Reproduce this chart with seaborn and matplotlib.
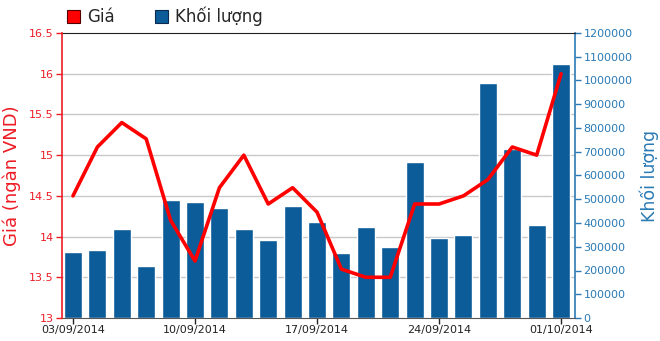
import numpy as np
import pandas as pd
import matplotlib
matplotlib.use("Agg")
import matplotlib.pyplot as plt
from matplotlib.patches import Patch
from matplotlib.ticker import FixedLocator, FuncFormatter
import seaborn as sns

dates = ["03/09/2014", "04/09/2014", "05/09/2014", "08/09/2014", "09/09/2014",
         "10/09/2014", "11/09/2014", "12/09/2014", "15/09/2014", "16/09/2014",
         "17/09/2014", "18/09/2014", "19/09/2014", "22/09/2014", "23/09/2014",
         "24/09/2014", "25/09/2014", "26/09/2014", "29/09/2014", "30/09/2014",
         "01/10/2014"]
price = [14.5, 15.1, 15.4, 15.2, 14.2, 13.7, 14.6, 15.0, 14.4, 14.6, 14.3,
         13.6, 13.5, 13.5, 14.4, 14.4, 14.5, 14.7, 15.1, 15.0, 16.0]
volume = [279000, 288000, 375000, 218000, 495000, 490000, 462000, 375000,
          327000, 470000, 403000, 274000, 384000, 298000, 658000, 337000,
          351000, 989000, 712000, 390000, 1071000]
xtick_labels = ["03/09/2014", "10/09/2014", "17/09/2014", "24/09/2014", "01/10/2014"]
price_ticks = [13, 13.5, 14, 14.5, 15, 15.5, 16, 16.5]
volume_ticks = list(range(0, 1200001, 100000))

df = pd.DataFrame({"idx": np.arange(len(dates)), "date": dates,
                   "price": price, "volume": volume})

sns.set_style("white")
plt.rcParams["font.family"] = ["DejaVu Sans"]

RED = "#ee1c25"
BLUE = "#2a7ab5"
BAR = "#0b5c98"

W, H = 660, 341
fig = plt.figure(figsize=(W / 100, H / 100), dpi=100)
L, R, T, B = 62, 575, 33, 318
rect = [L / W, (H - B) / H, (R - L) / W, (B - T) / H]

ax_v = fig.add_axes(rect)
ax_p = ax_v.twinx()

# volume bars (back)
sns.barplot(data=df, x="idx", y="volume", color=BAR, width=0.74,
            saturation=1, ax=ax_v, zorder=2)
ax_v.set_ylim(0, 1200000)
ax_v.yaxis.tick_right()
ax_v.yaxis.set_label_position("right")
ax_v.set_yticks(volume_ticks)
ax_v.yaxis.set_major_formatter(FuncFormatter(lambda v, p: f"{int(v)}"))
ax_v.yaxis.set_minor_locator(FixedLocator(np.linspace(0, 1200000, len(price_ticks))))
ax_v.grid(which="minor", axis="y", color="#c8c8c8", linewidth=1)
ax_v.grid(which="major", visible=False)
ax_v.set_axisbelow(True)
ax_v.tick_params(axis="y", which="minor", length=0)
ax_v.tick_params(axis="y", which="major", colors=BLUE, labelsize=8,
                 length=4, width=1, direction="out", pad=2, right=True, left=False,
                 labelright=True, labelleft=False)
ax_v.set_ylabel("Khối lượng", color=BLUE, fontsize=12.5, rotation=90, labelpad=5)
ax_v.set_xlabel("")

# price line (front)
ax_p.yaxis.tick_left()
ax_p.yaxis.set_label_position("left")
sns.lineplot(data=df, x="idx", y="price", color="#ff0000", linewidth=2.6,
             ax=ax_p, zorder=5)
ax_p.set_ylim(13, 16.5)
ax_p.set_yticks(price_ticks)
ax_p.yaxis.set_major_formatter(FuncFormatter(lambda v, p: f"{v:g}"))
ax_p.tick_params(axis="y", colors=RED, labelsize=8, length=4, width=1,
                 direction="out", pad=2, left=True, right=False,
                 labelleft=True, labelright=False)
ax_p.set_ylabel("Giá (ngàn VND)", color=RED, fontsize=13, labelpad=6)
ax_p.set_xlabel("")

tick_pos = [dates.index(d) for d in xtick_labels]
for a in (ax_v, ax_p):
    a.set_xlim(-0.45, 20.57)
ax_v.set_xticks(tick_pos)
ax_v.set_xticklabels(xtick_labels)
ax_v.tick_params(axis="x", colors="#222222", labelsize=8, length=4, width=1,
                 direction="out", pad=1, bottom=True)
ax_p.set_xticks(tick_pos)
ax_p.tick_params(axis="x", bottom=False, labelbottom=False)

for a in (ax_v, ax_p):
    for s in a.spines.values():
        s.set_visible(False)
ax_p.spines["left"].set_visible(True)
ax_p.spines["left"].set_color(RED)
ax_p.spines["left"].set_linewidth(1.2)
ax_v.spines["right"].set_visible(True)
ax_v.spines["right"].set_color(BLUE)
ax_v.spines["right"].set_linewidth(1.2)
ax_v.spines["top"].set_visible(True)
ax_v.spines["top"].set_color("#222222")
ax_v.spines["bottom"].set_visible(True)
ax_v.spines["bottom"].set_color("#555555")

handles = [Patch(facecolor="#ff0000", edgecolor="#550000", linewidth=0.8, label="Giá"),
           Patch(facecolor=BAR, edgecolor="#0a2a50", linewidth=0.8, label="Khối lượng")]
fig.legend(handles=handles, loc="upper left", bbox_to_anchor=(67 / W, 1.0 - 7 / H),
           ncol=2, frameon=False, fontsize=12, handlelength=0.8, handleheight=0.8,
           handletextpad=0.4, columnspacing=2.4, borderaxespad=0, borderpad=0)

fig.savefig("out.png", dpi=100)
